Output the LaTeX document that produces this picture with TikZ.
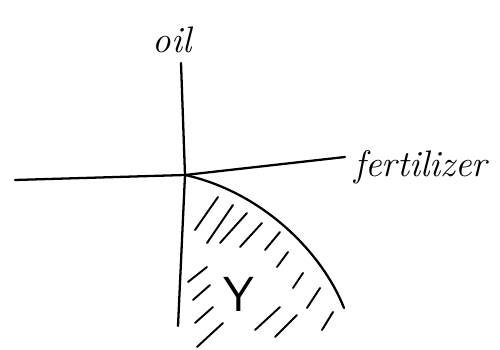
\documentclass[tikz,border=0pt]{standalone}
\usepackage{tikz}
\usetikzlibrary{positioning}

\begin{document}
\begin{tikzpicture}[
        x=0.02cm, y=-0.02cm,
        pen/.style={line width=1.3pt, line cap=round, line join=round},
        hatch/.style={line width=1.1pt, line cap=round},
        lbl/.style={font=\fontsize{21}{23}\selectfont\itshape, inner sep=0pt}
    ]
        \useasboundingbox (0,0) rectangle (500,350);

        % axes
        \coordinate (origin) at (185,175);
        \coordinate (ytop) at (181,63);
        \coordinate (ybot) at (178,326);
        \coordinate (xleft) at (15,180);
        \coordinate (xright) at (345,157);
        \draw[pen] (ytop) -- (origin) -- (ybot);
        \draw[pen] (xleft) -- (origin) -- (xright);

        \node[lbl] (oil) at (172,40) {oil};
        \node[lbl, right=5pt of xright, yshift=-6pt] (fert) {fertilizer};

        % frontier
        \coordinate (fend) at (344,308);
        \draw[pen] (origin) .. controls (262,192) and (322,252) .. (fend);

        % shading of the region
        \foreach \a/\b/\c/\d in {195/230/218/197, 207/243/233/205, 220/243/247/213,
                240/247/262/223, 265/250/280/232, 277/267/288/252, 293/288/303/273,
                307/308/320/288, 322/330/333/312, 275/337/297/315, 255/330/280/307,
                197/347/223/323, 195/323/213/307, 193/300/210/285, 188/282/207/267}
            \draw[hatch] (\a,\b) -- (\c,\d);

        \node[font=\fontsize{28}{30}\selectfont\sffamily, inner sep=0pt] (Y) at (239,294) {Y};
    \end{tikzpicture}
\end{document}
